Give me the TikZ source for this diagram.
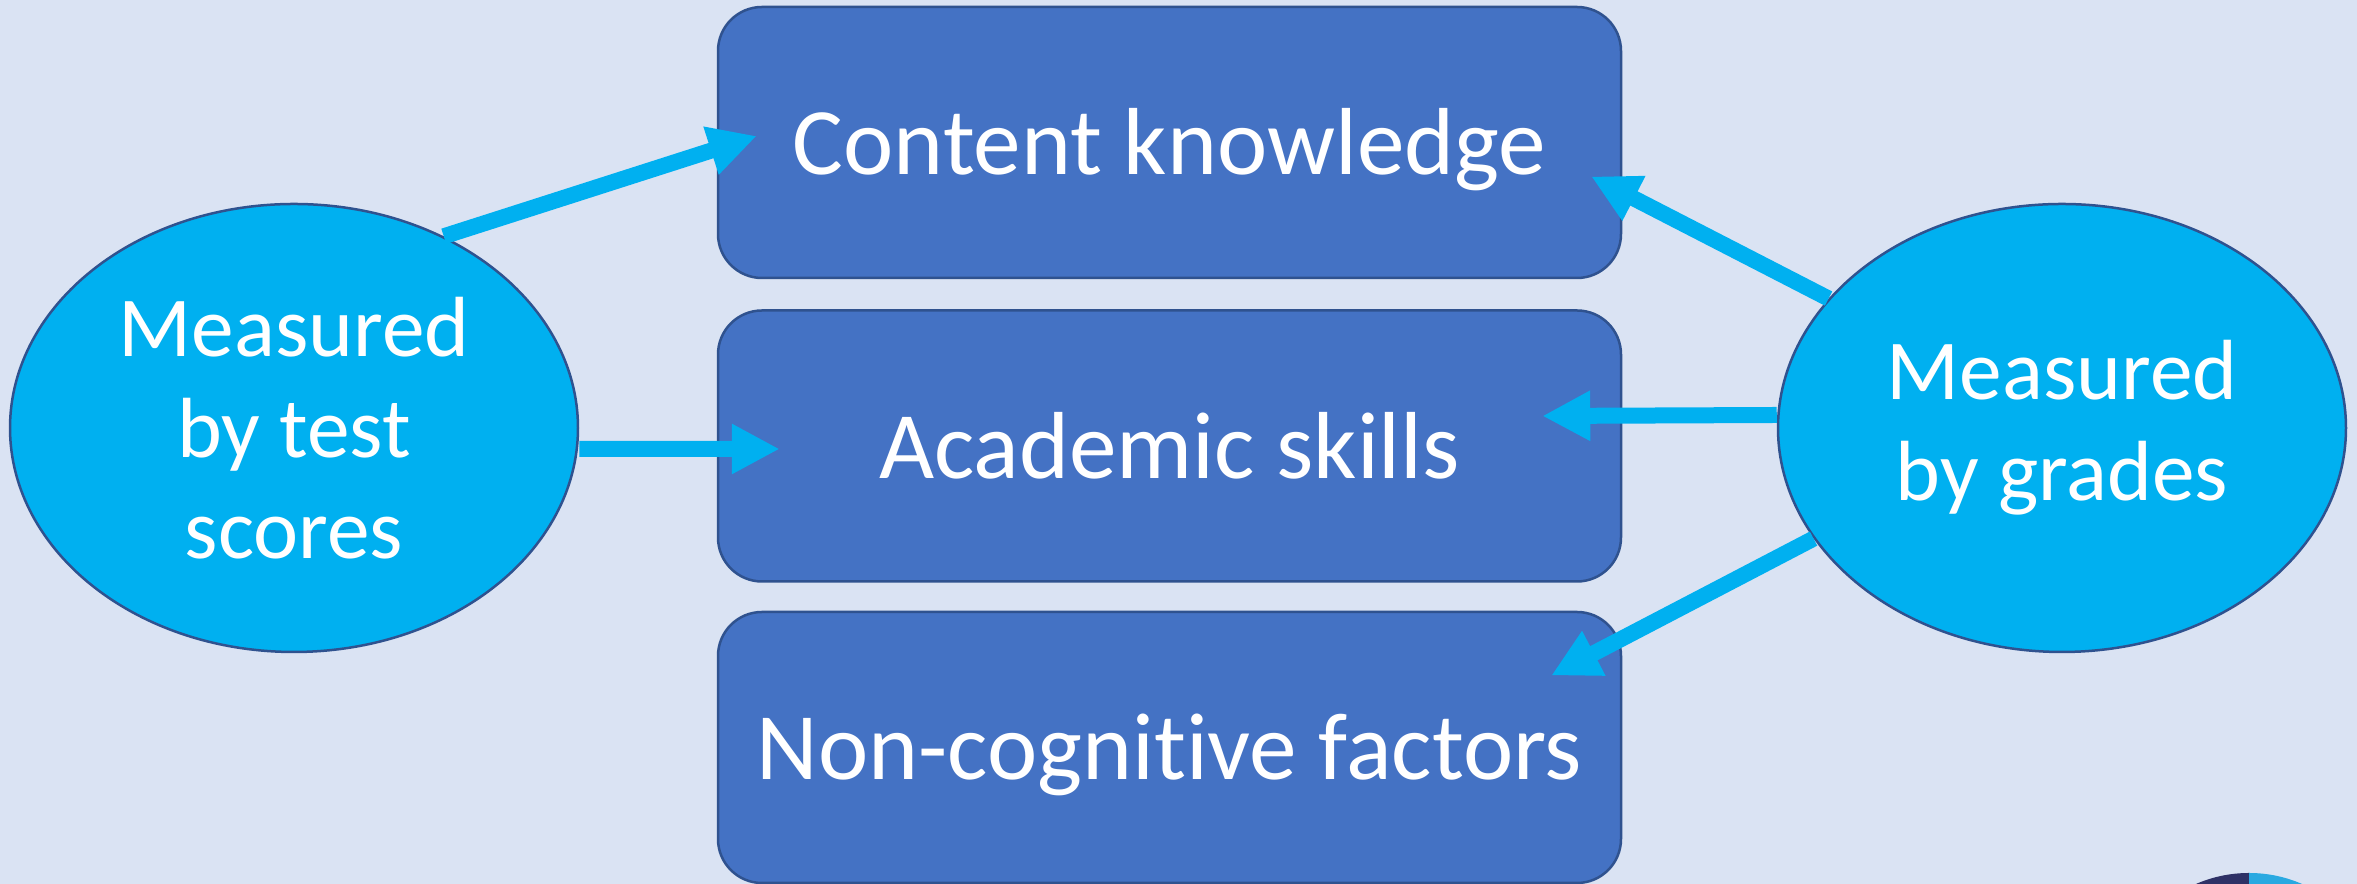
\documentclass[tikz,border=0pt]{standalone}
\usepackage{fontspec}
\setmainfont{Carlito}[Ligatures={NoCommon,NoContextual}]
\usepackage{xcolor}
\usetikzlibrary{arrows.meta,shapes.geometric}

\definecolor{paleback}{HTML}{DAE3F3}
\definecolor{boxblue}{HTML}{4472C4}
\definecolor{edgeblue}{HTML}{2F528F}
\definecolor{skyblue}{HTML}{00B0F0}
\definecolor{logonavy}{HTML}{2E3166}
\definecolor{logosky}{HTML}{29A9E1}

\tikzset{
  topic/.style={draw=edgeblue, line width=0.025cm, fill=boxblue, rounded corners=0.44cm,
    minimum width=9.03cm, minimum height=2.71cm, inner sep=0pt, text=white,
    font=\fontsize{27.1pt}{32pt}\selectfont, text height=0.65cm, text depth=0cm},
  measure/.style={ellipse, draw=edgeblue, line width=0.025cm, fill=skyblue,
    minimum width=5.68cm, minimum height=4.48cm, inner sep=0pt, text=white, align=center,
    font=\fontsize{24.3pt}{28.7pt}\selectfont},
  link/.style={draw=skyblue, line width=0.16cm, -{Triangle[length=0.48cm,width=0.47cm]}}
}

\begin{document}
\begin{tikzpicture}
\useasboundingbox (0,0) rectangle (23.57,8.84);
\fill[paleback] (0,0) rectangle (23.57,8.84);
% logo cut by the lower edge
\begin{scope}
\clip (0,0) rectangle (23.57,8.84);
\fill[logonavy] (22.49,-1.22) -- ++(0,1.33) arc[start angle=90, end angle=270, radius=1.33] -- cycle;
\fill[logosky] (22.49,-1.22) -- ++(0,1.33) arc[start angle=90, end angle=-90, radius=1.33] -- cycle;
\end{scope}
\node[topic] (content) at (11.695, 7.415) {Content knowledge};
\node[topic] (skills) at (11.695, 4.38) {Academic skills};
\node[topic] (factors) at (11.695, 1.365) {Non-cognit\kern0pt ive factors};
\node[measure] (tests) at (2.94, 4.56) {Measured\\by test\\scores};
\node[measure] (grades) at (20.62, 4.56) {Measured\\by grades};
\draw[link] (tests.52) -- ([shift={(0.40,0.065)}]content.west);
\draw[link] ([yshift=-0.21cm]tests.east) -- ([shift={(0.63,-0.03)}]skills.west);
\draw[link] (grades.151.5) -- ([shift={(-0.31,-0.34)}]content.east);
\draw[link] ([yshift=0.13cm]grades.west) -- ([shift={(-0.80,0.30)}]skills.east);
\draw[link] (grades.204) -- ([shift={(-0.71,0.72)}]factors.east);
\end{tikzpicture}
\end{document}
